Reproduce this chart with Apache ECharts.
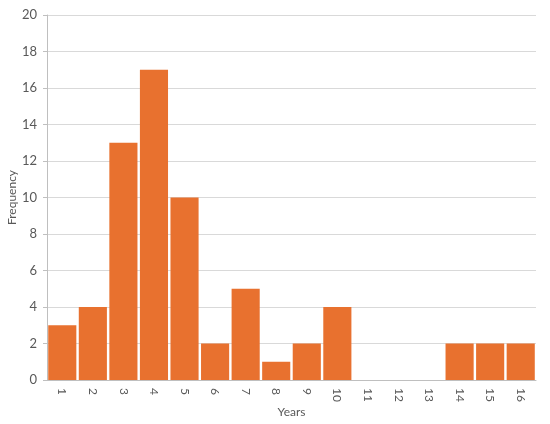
<!DOCTYPE html>
<html><head><meta charset="utf-8">
<script src="https://cdn.jsdelivr.net/npm/echarts@6/dist/echarts.min.js"></script>
<style>html,body{margin:0;padding:0;background:#fff}#c{width:550px;height:424px}</style>
</head><body><div id="c"></div>
<script>
const categories = ['1','2','3','4','5','6','7','8','9','10','11','12','13','14','15','16'];
const frequency = [3,4,13,17,10,2,5,1,2,4,0,0,0,2,2,2];
const yTicks = {min:0, max:20, interval:2};

const chart = echarts.init(document.getElementById('c'));
chart.setOption({
  animation:false,
  grid:{left:47,right:14,top:15,bottom:44,containLabel:false,outerBoundsMode:'none'},
  xAxis:{type:'category',data:categories,name:'Years',nameLocation:'middle',nameGap:26,nameMoveOverlap:false,
    nameTextStyle:{fontFamily:'Lato',fontSize:12,color:'#595959'},
    axisLine:{lineStyle:{color:'#bfbfbf'}},axisTick:{show:false},
    axisLabel:{rotate:-90,fontFamily:'Lato',fontSize:12,color:'#595959',margin:8}},
  yAxis:{type:'value',min:yTicks.min,max:yTicks.max,interval:yTicks.interval,name:'Frequency',
    nameLocation:'middle',nameGap:29,nameMoveOverlap:false,nameTextStyle:{fontFamily:'Lato',fontSize:12,color:'#595959'},
    axisLine:{show:true,lineStyle:{color:'#bfbfbf'}},axisTick:{show:true,length:4,lineStyle:{color:'#bfbfbf'}},
    splitLine:{lineStyle:{color:'#d9d9d9'}},
    axisLabel:{fontFamily:'Lato',fontSize:13,color:'#595959',margin:10}},
  series:[{type:'bar',data:frequency,barCategoryGap:'8%',
    itemStyle:{color:'#E8712F',borderColor:'#C07A30',borderWidth:0}}]
});
</script></body></html>
